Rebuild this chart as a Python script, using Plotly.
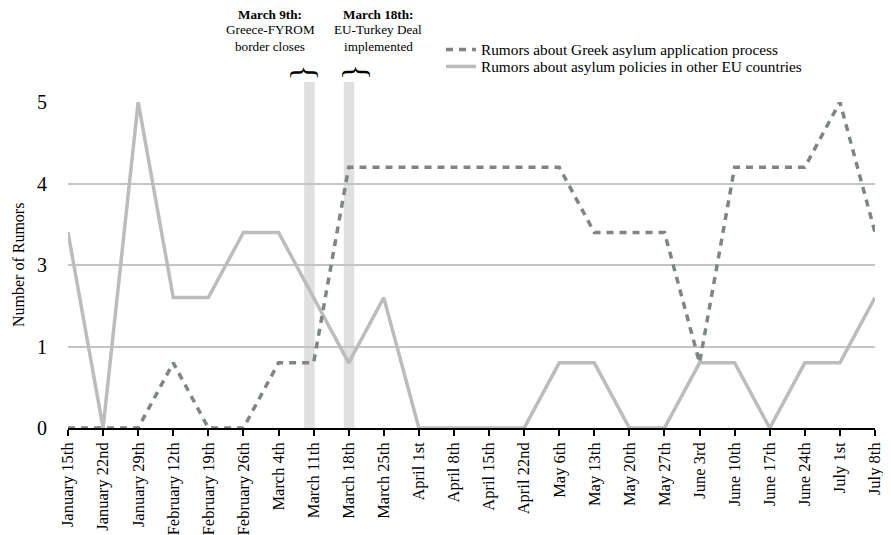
import plotly.graph_objects as go

weeks = ["January 15th", "January 22nd", "January 29th", "February 12th", "February 19th",
         "February 26th", "March 4th", "March 11th", "March 18th", "March 25th", "April 1st",
         "April 8th", "April 15th", "April 22nd", "May 6th", "May 13th", "May 20th", "May 27th",
         "June 3rd", "June 10th", "June 17th", "June 24th", "July 1st", "July 8th"]
greek = [0, 0, 0, 1, 0, 0, 1, 1, 4, 4, 4, 4, 4, 4, 4, 3, 3, 3, 1, 4, 4, 4, 5, 3]
other_eu = [3, 0, 5, 2, 2, 3, 3, 2, 1, 2, 0, 0, 0, 0, 1, 1, 0, 0, 1, 1, 0, 1, 1, 2]
ytick_vals = [0, 1.25, 2.5, 3.75, 5]
ytick_text = ["0", "1", "3", "4", "5"]
event_x = [6.88, 8.01]
event_lines = [["<b>March 9th:</b>", "Greece-FYROM", "border closes"],
               ["<b>March 18th:</b>", "EU-Turkey Deal", "implemented"]]

FONT = "Liberation Serif"
# page has an 8px body margin; the figure is offset by it
OFF = 8
W, H = 875, 527
L, R, T, B = 60, 8, 94, 107
PW, PH = W - L - R, H - T - B


def px_x(p):
    return (p - OFF - L) / PW


def px_y(p):
    return (H - B - (p - OFF)) / PH


xs = list(range(len(weeks)))

fig = go.Figure()
fig.add_trace(go.Scatter(x=xs, y=other_eu, mode="lines", legend="legend2",
                         name="Rumors about asylum policies in other EU countries",
                         line=dict(color="#bcbcbc", width=3.5)))
fig.add_trace(go.Scatter(x=xs, y=greek, mode="lines", legend="legend",
                         name="Rumors about Greek asylum application process",
                         line=dict(color="#7f8583", width=3.5, dash="7px,6px")))

for i, xpos in enumerate(event_x):
    fig.add_shape(type="rect", xref="x", yref="paper", x0=xpos - 0.15, x1=xpos + 0.15,
                  y0=0, y1=px_y(82), fillcolor="#e0e0e0", line=dict(width=0), layer="below")
    fig.add_annotation(x=xpos, xref="x", y=px_y(72), yref="paper", text="}", textangle=-90,
                       showarrow=False, font=dict(family=FONT, size=33, color="black"),
                       xanchor="center", yanchor="middle",
                       xshift=-7 if i == 0 else 5)

for cx, lines in zip([270, 378], event_lines):
    for j, txt in enumerate(lines):
        fig.add_annotation(x=px_x(cx), xref="paper", y=px_y(14 + 16 * j), yref="paper",
                           xanchor="center", yanchor="middle", text=txt, showarrow=False,
                           font=dict(family=FONT, size=13.2, color="black"))

fig.add_annotation(x=px_x(18), xref="paper", y=0.5, yref="paper", text="Number of Rumors",
                   textangle=-90, showarrow=False, xanchor="center", yanchor="middle",
                   font=dict(family=FONT, size=16, color="black"))

leg_common = dict(xanchor="left", yanchor="top", font=dict(family=FONT, size=15.3),
                  itemwidth=30, bgcolor="rgba(0,0,0,0)")
fig.update_layout(
    width=W, height=H,
    margin=dict(l=L, r=R, t=T, b=B, autoexpand=False),
    paper_bgcolor="white", plot_bgcolor="white",
    font=dict(family=FONT, color="black"),
    showlegend=True,
    legend=dict(x=px_x(441), y=px_y(33), **leg_common),
    legend2=dict(x=px_x(441), y=px_y(50), **leg_common),
    xaxis=dict(range=[0, 23], tickvals=xs, ticktext=weeks, tickangle=-90,
               showgrid=False, showline=True, linecolor="black", linewidth=1.5,
               ticks="outside", ticklen=6, tickwidth=1.5, tickcolor="black",
               tickfont=dict(family=FONT, size=16.5), layer="below traces", zeroline=False,
               automargin=False, ticklabeloverflow="allow"),
    yaxis=dict(range=[0, 5], tickvals=ytick_vals, ticktext=ytick_text,
               showgrid=True, gridcolor="#c4c4c4", gridwidth=1.5, zeroline=False,
               showline=False, ticks="", ticklabelstandoff=20,
               tickfont=dict(family=FONT, size=20), automargin=False),
)

fig.write_html("out.html")
